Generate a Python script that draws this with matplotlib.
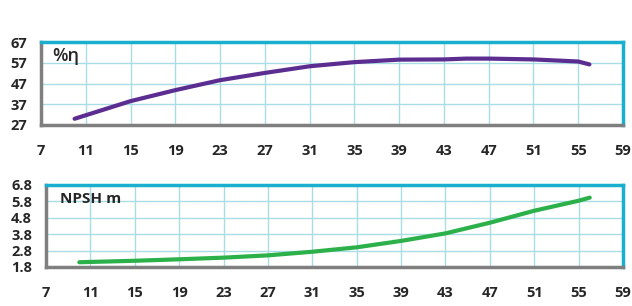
import matplotlib
matplotlib.use("Agg")
import matplotlib.pyplot as plt

# Data
eff_flow = [10, 15, 19, 23, 27, 31, 35, 39, 43, 45, 47, 51, 55, 56]
eff_vals = [30.0, 38.5, 43.8, 48.6, 52.1, 55.3, 57.3, 58.5, 58.6, 59.0, 59.0, 58.6, 57.6, 56.2]

npsh_flow = [10, 15, 19, 23, 27, 31, 35, 39, 43, 47, 51, 55, 56]
npsh_vals = [2.09, 2.18, 2.27, 2.37, 2.51, 2.73, 3.00, 3.39, 3.85, 4.50, 5.23, 5.84, 6.03]

x_ticks = [7, 11, 15, 19, 23, 27, 31, 35, 39, 43, 47, 51, 55, 59]
eff_ticks = [27, 37, 47, 57, 67]
npsh_ticks = [1.8, 2.8, 3.8, 4.8, 5.8, 6.8]

FONT = "Open Sans"
CYAN = "#1AAFCF"
GRAY = "#7F7F7F"
GRID = "#A9DDE5"
TXT = "#262626"

fig = plt.figure(figsize=(6.32, 3.06), dpi=100)

def style(ax, yticks, yfmt, xpad):
    ax.set_xlim(7, 59)
    ax.set_xticks(x_ticks)
    ax.set_ylim(yticks[0], yticks[-1])
    ax.set_yticks(yticks)
    ax.set_yticklabels([yfmt(v) for v in yticks])
    ax.grid(True, color=GRID, linewidth=1.0)
    ax.set_axisbelow(True)
    for s in ["top", "right"]:
        ax.spines[s].set_color(CYAN)
        ax.spines[s].set_linewidth(2.5)
    for s in ["left", "bottom"]:
        ax.spines[s].set_color(GRAY)
        ax.spines[s].set_linewidth(2.5)
    ax.tick_params(axis="both", length=0, labelsize=10.5, labelcolor=TXT)
    ax.tick_params(axis="x", pad=xpad)
    ax.tick_params(axis="y", pad=10)
    for lab in ax.get_xticklabels() + ax.get_yticklabels():
        lab.set_fontfamily(FONT)
        lab.set_fontweight("bold")

ax1 = fig.add_axes([41/632, 1 - 125/306, 582/632, 83/306])
ax1.plot(eff_flow, eff_vals, color="#5C2D91", linewidth=3,
         solid_capstyle="round", solid_joinstyle="round")
style(ax1, eff_ticks, lambda v: f"{v:d}", 14)
ax1.text(0.02, 0.83, "%η", transform=ax1.transAxes, fontsize=13,
         fontfamily=FONT, fontweight="semibold", color=TXT, va="center", ha="left")

ax2 = fig.add_axes([46/632, 1 - 267/306, 577/632, 82/306])
ax2.plot(npsh_flow, npsh_vals, color="#2BB04A", linewidth=3,
         solid_capstyle="round", solid_joinstyle="round")
style(ax2, npsh_ticks, lambda v: f"{v:.1f}", 14)
ax2.text(0.025, 0.83, "NPSH m", transform=ax2.transAxes, fontsize=11,
         fontfamily=FONT, fontweight="bold", color=TXT, va="center", ha="left")

fig.savefig("out.png", dpi=100)
